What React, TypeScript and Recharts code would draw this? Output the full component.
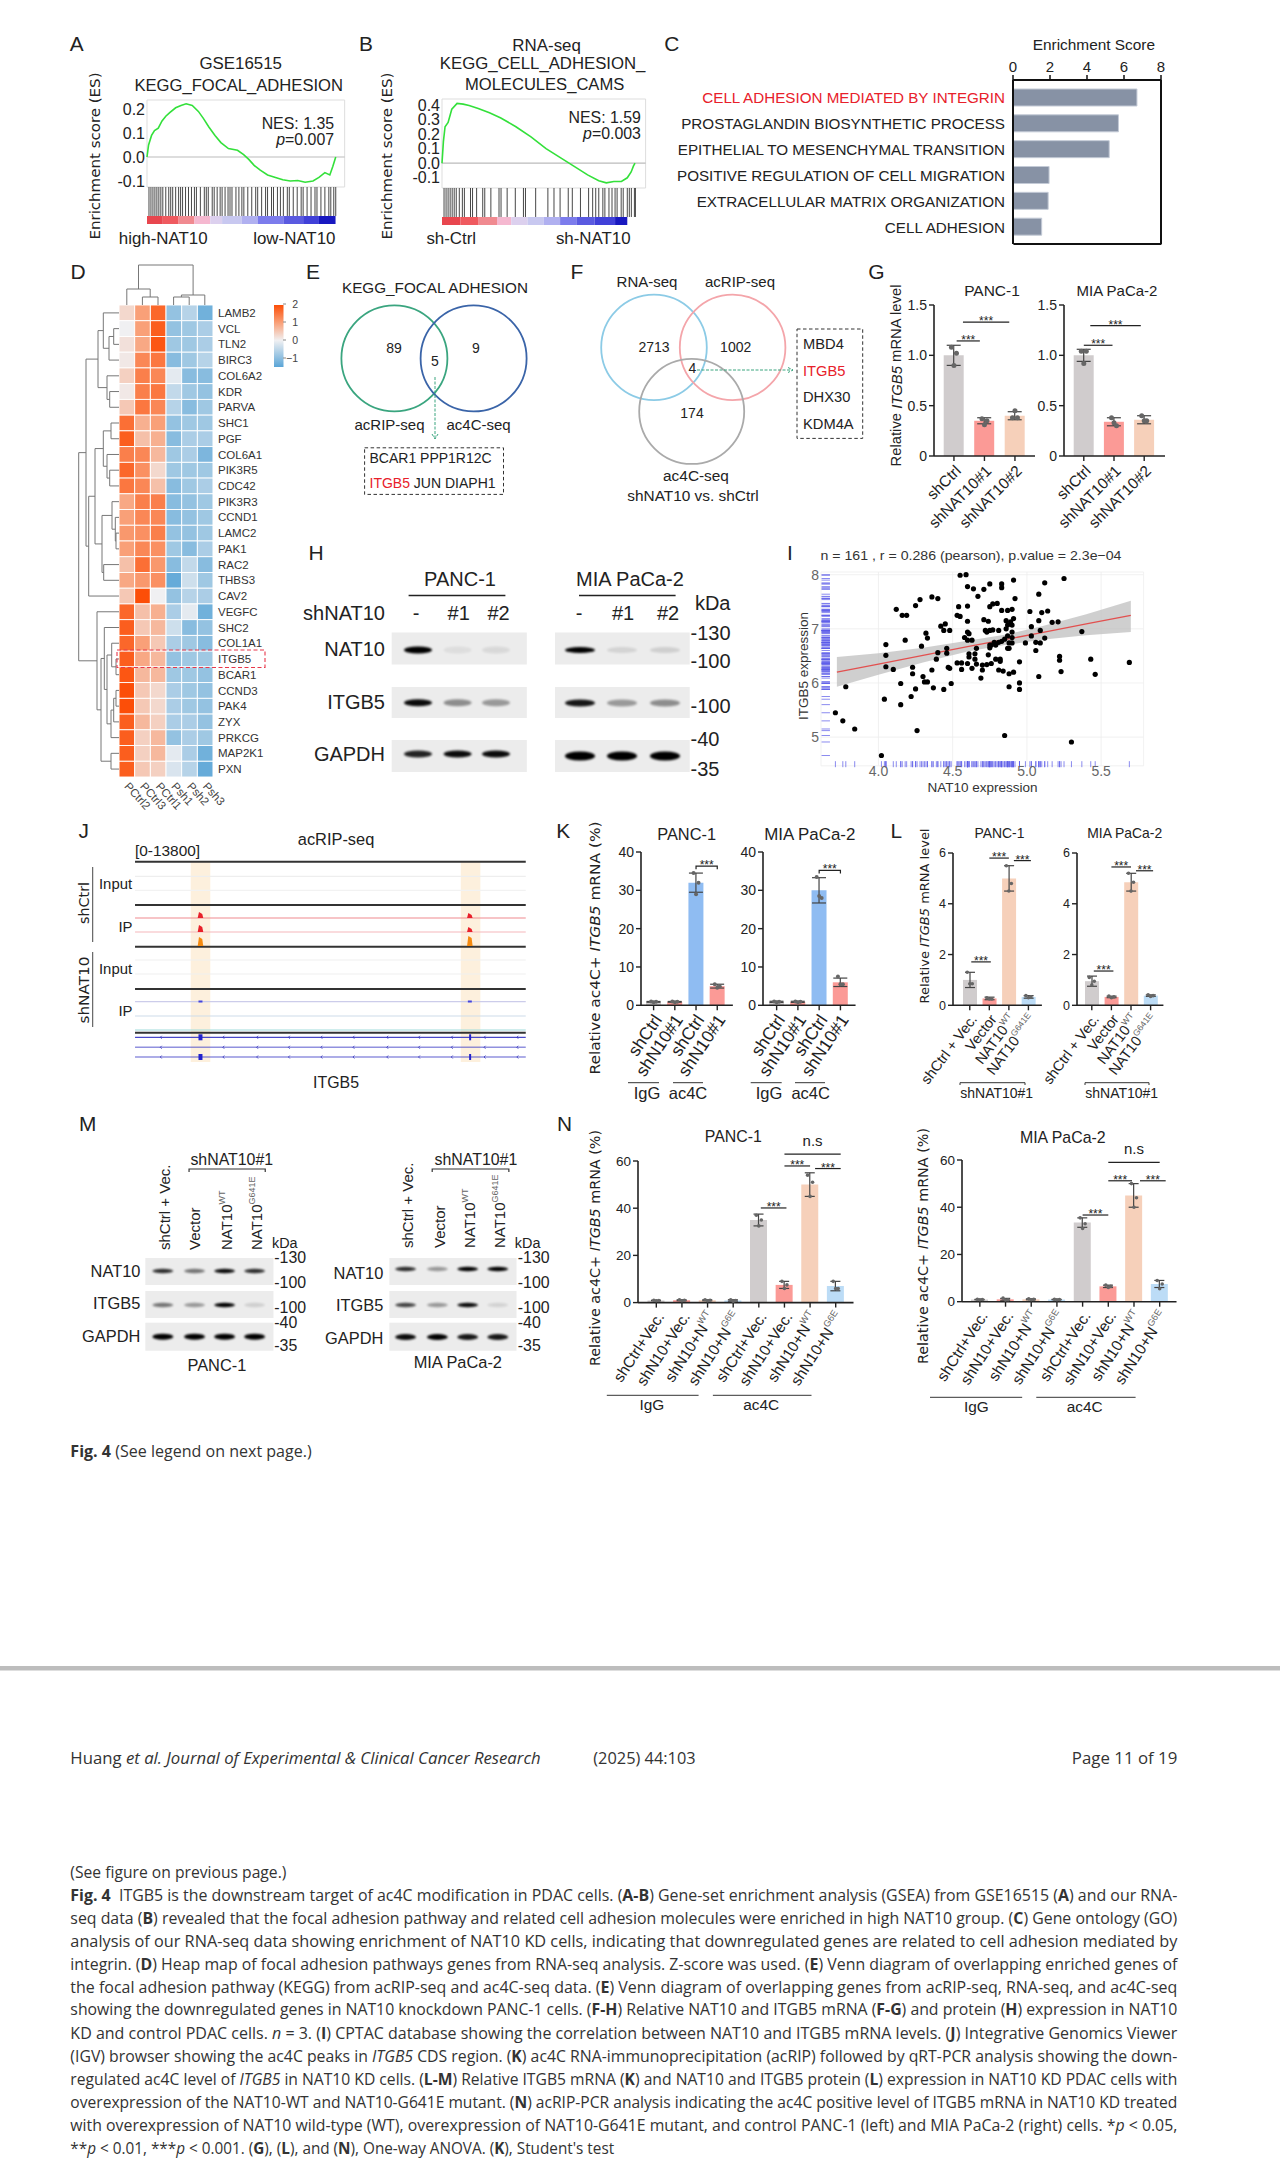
import React from "react";
import {
  Bar, BarChart, CartesianGrid, Cell, ComposedChart, Area, ErrorBar, Line, LineChart,
  ReferenceArea, ReferenceLine, Scatter, ScatterChart, XAxis, YAxis,
} from "recharts";

// A / B GSEA curves
const gseaARank = [0, 0.8, 2.3, 3.8, 5.7, 7.6, 9.5, 11.5, 14.5, 17.2, 19.8, 22.9, 26, 28.6, 31.3, 34.4, 37.4, 41.2, 45.8, 48.9, 51.5, 54.2, 57.3, 61, 65, 68.7, 72.5, 76.3, 80, 84, 87, 90, 92.5, 94, 95.5];
const gseaAEs = [0, 0.05, 0.09, 0.11, 0.12, 0.15, 0.17, 0.185, 0.205, 0.215, 0.222, 0.215, 0.19, 0.16, 0.125, 0.09, 0.06, 0.035, 0.028, 0.01, -0.01, -0.035, -0.055, -0.075, -0.085, -0.095, -0.1, -0.098, -0.105, -0.1, -0.085, -0.065, -0.075, -0.04, 0];
const gseaAHits = [1, 2, 3, 4, 5, 6, 7, 8, 9.5, 11, 12, 13, 14.5, 16, 17, 18, 19.5, 21, 22.5, 24, 25, 27, 29, 30, 31, 33, 34, 35.5, 37, 38, 39.5, 41, 42, 43, 45, 46.5, 48, 49, 51, 53, 55, 56, 58, 60, 61, 63, 64, 66, 67.5, 69, 71, 72, 74, 76, 78, 79, 81, 83, 85, 86, 88, 90, 92, 93, 94.5, 95.5];
const gseaBRank = [0, 0.7, 1.5, 3, 4.8, 7.4, 10.4, 13.3, 17.8, 23.3, 28.9, 36.3, 43.7, 51.1, 58.5, 65.9, 71.5, 77, 80.7, 84.4, 88.1, 91, 92.9, 94, 94.8];
const gseaBEs = [0, 0.15, 0.25, 0.28, 0.37, 0.41, 0.405, 0.395, 0.375, 0.345, 0.31, 0.25, 0.18, 0.1, 0.035, -0.03, -0.08, -0.12, -0.135, -0.125, -0.125, -0.1, -0.06, -0.02, 0];
const gseaBHits = [1, 2, 3, 4, 5, 6, 7, 8.5, 10, 11, 14, 15, 17, 20, 21, 24, 28, 29, 32, 36, 40, 41, 46, 52, 55, 58, 62, 64, 68, 72, 74, 75.5, 77, 79, 80, 82, 83.5, 85, 86, 88, 89, 91, 92, 93, 94.5, 95];
const stripColors = ["#e8464e", "#ef5a5f", "#f08a90", "#f5b8d0", "#dcd0ee", "#c8c8f0", "#b0b0f0", "#7c7cec", "#5a5ae0", "#4040d8", "#1818c0"];
const stripAWidths = [8, 8, 8, 8, 6, 10, 8, 13, 10, 8, 8.4];
const stripBWidths = [9, 9, 9, 7, 8, 8, 8, 8, 9, 10, 6];

// C enrichment
const goTerms = ["CELL ADHESION MEDIATED BY INTEGRIN", "PROSTAGLANDIN BIOSYNTHETIC PROCESS", "EPITHELIAL TO MESENCHYMAL TRANSITION", "POSITIVE REGULATION OF CELL MIGRATION", "EXTRACELLULAR MATRIX ORGANIZATION", "CELL ADHESION"];
const goScores = [6.7, 5.7, 5.2, 1.95, 1.9, 1.55];

// D heatmap
const heatGenes = ["LAMB2", "VCL", "TLN2", "BIRC3", "COL6A2", "KDR", "PARVA", "SHC1", "PGF", "COL6A1", "PIK3R5", "CDC42", "PIK3R3", "CCND1", "LAMC2", "PAK1", "RAC2", "THBS3", "CAV2", "VEGFC", "SHC2", "COL1A1", "ITGB5", "BCAR1", "CCND3", "PAK4", "ZYX", "PRKCG", "MAP2K1", "PXN"];
const heatSamples = ["PCtrl2", "PCtrl3", "PCtrl1", "Psh1", "Psh2", "Psh3"];
const heatValues = [
  [0.3, 1, 1.7, -0.8, -0.5, -1.1], [0, 1, 1.8, -0.8, -0.7, -0.6], [0.2, 0.9, 1.9, -0.7, -0.7, -0.6], [0.1, 1.3, 1.5, -0.9, -0.7, -0.5],
  [0.4, 1.4, 1.3, -0.1, -0.9, -0.9], [0.1, 1.4, 1.5, -0.4, -0.7, -0.8], [0.5, 1.5, 1.3, -0.5, -0.9, -0.7], [1.6, 0.8, 1, -0.8, -0.7, -0.7],
  [1.8, 0.6, 0.8, -0.9, -0.6, -0.6], [1.4, 1.3, 0.7, -0.7, -0.6, -1], [1.7, 1.2, 0.3, -0.7, -0.7, -0.7], [1.5, 1.3, 0.6, -0.9, -0.7, -0.6],
  [0.9, 1.4, 1.4, -0.9, -0.8, -0.7], [1, 1.3, 1.3, -0.9, -0.8, -0.7], [1.1, 1.2, 1.4, -0.8, -0.8, -0.7], [1, 1.3, 1.2, -0.7, -0.9, -0.6],
  [0.6, 1.6, 1.1, -0.9, -0.4, -0.9], [0.9, 1.1, 1.2, -1.2, -0.3, -0.7], [0.5, 2, 0, -0.8, -0.5, -0.6], [1.7, 0.6, 0.8, -0.6, -0.1, -1.1],
  [1.8, 0.5, 0.7, -0.3, -0.9, -0.8], [1.7, 1, 0.5, -0.6, -0.7, -0.9], [1.8, 0.9, 0.7, -0.8, -0.7, -0.7], [1.9, 0.7, 0.7, -0.7, -0.7, -0.8],
  [2, 0.5, 0.3, -0.6, -0.7, -0.8], [2, 0.5, 0.3, -0.6, -0.7, -0.8], [1.8, 0.7, 0.4, -0.6, -0.6, -0.8], [1.8, 0.4, 0.7, -0.8, -0.6, -0.7],
  [1.8, 0.4, 0.7, -0.1, -0.6, -1.1], [1.8, 0.5, 0.4, -0.2, -0.5, -1.2],
];
// [height, left, right], leaves are row / column numbers
const rowTree: any = [40.3,
  [33, [21, [15.7, 0, [10, [5.3, 1, 2], 3]], [12, 4, [9.3, 5, 6]]],
    [30.3, [24, [15.7, [8, 7, 8], [12, 9, [9.3, 10, 11]]], [17, [7, 12, [3.7, 13, [3, 14, 15]]], [15.3, 16, 17]]], 18]],
  [22, 19, [18, [14.7, 20, [12, [7.3, 21, [3, 22, 23]], [8, [5.3, [3, 24, 25], 26], 27]]], [8, 28, 29]]]];
const colTree: any = [40, [16, 0, [8, 1, 2]], [10, [8, 3, 4], 5]];

// G
const gLabels = ["shCtrl", "shNAT10#1", "shNAT10#2"];
const gPancMeans = [1, 0.35, 0.4];
const gPancErrs = [0.1, 0.03, 0.04];
const gPancReps = [[1.08, 1.02, 0.9], [0.37, 0.35, 0.31], [0.38, 0.38, 0.45]];
const gMiaMeans = [1, 0.34, 0.36];
const gMiaErrs = [0.06, 0.04, 0.04];
const gMiaReps = [[1.04, 1.04, 0.92], [0.38, 0.3, 0.33], [0.4, 0.35, 0.35]];

// I scatter: NAT10, ITGB5
const scatterPairs = [[3.71, 5.45], [3.76, 5.3], [3.84, 5.15], [3.78, 5.93], [4.02, 4.66], [4.04, 5.7], [4.05, 6.71], [4.05, 6.51], [4.05, 6.3], [4.1, 6.25], [4.12, 7.36], [4.16, 7.25], [4.19, 7.25], [4.18, 6.79], [4.15, 5.99], [4.15, 5.6], [4.23, 6.29], [4.23, 6.17], [4.22, 5.75], [4.25, 5.89], [4.26, 5.12], [4.25, 7.43], [4.28, 7.54], [4.29, 6.68], [4.3, 6.12], [4.31, 6.02], [4.33, 6.02], [4.32, 6.92], [4.33, 6.83], [4.36, 7.59], [4.4, 7.56], [4.36, 6.24], [4.37, 5.91], [4.39, 6.44], [4.4, 6.56], [4.42, 7.05], [4.45, 7.09], [4.44, 6.97], [4.48, 6.97], [4.46, 6.64], [4.46, 6.55], [4.44, 5.88], [4.47, 6.29], [4.48, 6.27], [4.49, 5.99], [4.53, 7.25], [4.55, 7.99], [4.59, 8], [4.6, 7.78], [4.64, 7.74], [4.71, 7.73], [4.75, 7.83], [4.83, 7.83], [4.83, 7.76], [4.91, 7.9], [4.67, 7.6], [4.54, 7.41], [4.6, 7.42], [4.75, 7.41], [4.77, 7.46], [4.8, 7.47], [4.83, 7.34], [4.87, 7.34], [4.92, 7.56], [4.9, 7.36], [4.55, 7.23], [4.6, 7.14], [4.71, 7.17], [4.74, 7.14], [4.86, 7.15], [4.91, 7.19], [4.89, 7.13], [5.02, 7.32], [5.1, 7.3], [5.14, 7.33], [5.12, 7.85], [5.08, 7.64], [5.25, 7.93], [5.08, 7.15], [5.03, 7.04], [5.17, 7.12], [5.21, 7.13], [5.37, 6.95], [5.09, 6.97], [5.12, 6.83], [5.03, 6.87], [4.99, 6.74], [5.06, 6.75], [5.09, 6.74], [5.06, 6.6], [5.22, 6.49], [5.22, 6.42], [5.23, 6.21], [5.08, 6.12], [5.43, 6.44], [5.46, 6.16], [5.69, 6.38], [5.3, 4.91], [4.85, 5.03], [4.88, 5.93], [4.95, 6], [4.95, 5.88], [4.95, 6.39], [4.69, 6.09], [4.88, 6.17], [4.91, 6.2], [4.81, 6.24], [4.84, 6.22], [4.79, 6.44], [4.82, 6.44], [4.82, 6.4], [4.76, 6.36], [4.73, 6.34], [4.7, 6.33], [4.66, 6.35], [4.63, 6.27], [4.56, 6.25], [4.7, 6.24], [4.53, 6.37], [4.56, 6.37], [4.6, 6.36], [4.61, 6.48], [4.61, 6.54], [4.65, 6.54], [4.65, 6.44], [4.74, 6.52], [4.75, 6.65], [4.66, 6.64], [4.58, 6.84], [4.6, 6.79], [4.63, 6.79], [4.6, 6.94], [4.61, 6.91], [4.72, 6.97], [4.75, 6.97], [4.77, 6.98], [4.81, 6.97], [4.73, 6.94], [4.86, 7], [4.9, 7.07], [4.87, 7.07], [4.9, 6.94], [4.9, 6.84], [4.88, 6.74], [4.87, 6.87], [4.85, 6.81], [4.83, 6.77], [4.81, 6.75], [4.78, 6.75], [4.76, 6.7], [4.75, 6.7], [4.79, 6.7], [4.88, 6.64], [4.87, 6.64], [4.9, 6.74]];
const fitX = [3.72, 4, 4.3, 4.6, 4.85, 5.1, 5.4, 5.7];
const fitY = [6.2, 6.35, 6.51, 6.67, 6.8, 6.93, 7.09, 7.25];
const fitLow = [5.93, 6.15, 6.38, 6.58, 6.7, 6.8, 6.88, 6.94];
const fitHigh = [6.48, 6.55, 6.65, 6.78, 6.89, 7.05, 7.27, 7.52];

// K
const kLabels = ["shCtrl", "shN10#1", "shCtrl", "shN10#1"];
const kPancMeans = [0.9, 0.9, 32, 5];
const kPancErrs = [0.1, 0.1, 2.5, 0.5];
const kPancReps = [[1, 0.9, 0.8], [1, 0.9, 0.8], [34.5, 32, 29], [5.5, 5, 4.6]];
const kMiaMeans = [0.9, 0.9, 30, 6];
const kMiaErrs = [0.15, 0.15, 3.3, 1.1];
const kMiaReps = [[1, 0.9, 0.8], [1, 0.9, 0.8], [33.5, 28, 28.5], [7.5, 5.5, 5.5]];

// L
const lLabels = ["shCtrl + Vec.", "Vector", "NAT10^WT", "NAT10^G641E"];
const lPancMeans = [1, 0.27, 5, 0.33];
const lPancErrs = [0.3, 0.05, 0.5, 0.05];
const lPancReps = [[1.3, 0.85, 0.85], [0.3, 0.25, 0.25], [5.5, 4.8, 4.5], [0.38, 0.33, 0.3]];
const lMiaMeans = [0.95, 0.33, 4.85, 0.38];
const lMiaErrs = [0.2, 0.03, 0.35, 0.03];
const lMiaReps = [[1.1, 0.95, 0.8], [0.36, 0.33, 0.3], [5.2, 4.85, 4.5], [0.41, 0.38, 0.35]];

// N
const nLabels = ["shCtrl+Vec.", "shN10+Vec.", "shN10+N^WT", "shN10+N^G6E", "shCtrl+Vec.", "shN10+Vec.", "shN10+N^WT", "shN10+N^G6E"];
const nPancMeans = [0.9, 1, 1, 0.9, 35, 7.5, 50, 7];
const nPancErrs = [0.1, 0.2, 0.2, 0.3, 2.5, 1.5, 5, 2];
const nPancReps = [[1, 0.9, 0.8], [1.2, 1, 0.8], [1.2, 1, 0.8], [1.2, 0.9, 0.6], [37, 35, 32.5], [9, 7.5, 6], [54, 51, 45], [9, 6, 6]];
const nMiaMeans = [0.9, 1, 1, 0.9, 33.5, 6.5, 45, 7.5];
const nMiaErrs = [0.1, 0.4, 0.2, 0.1, 2, 0.5, 5, 1.5];
const nMiaReps = [[1, 0.9, 0.8], [1.5, 0.8, 0.7], [1.2, 1, 0.8], [1, 0.9, 0.8], [35.5, 33, 31], [7, 6.5, 6], [50, 44, 40], [9, 7.5, 5.5]];

// blot band strengths, one row per antibody
const hPancLevels = [[1, 0.06, 0.08], [0.95, 0.4, 0.35], [0.85, 0.95, 0.95]];
const hMiaLevels = [[1, 0.1, 0.12], [0.9, 0.35, 0.4], [1, 1, 1]];
const mPancLevels = [[0.8, 0.5, 0.95, 0.8], [0.5, 0.35, 1, 0.12], [1, 1, 1, 1]];
const mMiaLevels = [[0.8, 0.35, 1, 1], [0.7, 0.35, 0.95, 0.1], [0.95, 1, 0.9, 0.9]];

const captionLines = [
  "(See figure on previous page.)",
  "~Fig. 4~  ITGB5 is the downstream target of ac4C modification in PDAC cells. (~A-B~) Gene-set enrichment analysis (GSEA) from GSE16515 (~A~) and our RNA-",
  "seq data (~B~) revealed that the focal adhesion pathway and related cell adhesion molecules were enriched in high NAT10 group. (~C~) Gene ontology (GO)",
  "analysis of our RNA-seq data showing enrichment of NAT10 KD cells, indicating that downregulated genes are related to cell adhesion mediated by",
  "integrin. (~D~) Heap map of focal adhesion pathways genes from RNA-seq analysis. Z-score was used. (~E~) Venn diagram of overlapping enriched genes of",
  "the focal adhesion pathway (KEGG) from acRIP-seq and ac4C-seq data. (~E~) Venn diagram of overlapping genes from acRIP-seq, RNA-seq, and ac4C-seq",
  "showing the downregulated genes in NAT10 knockdown PANC-1 cells. (~F-H~) Relative NAT10 and ITGB5 mRNA (~F-G~) and protein (~H~) expression in NAT10",
  "KD and control PDAC cells. _n_ = 3. (~I~) CPTAC database showing the correlation between NAT10 and ITGB5 mRNA levels. (~J~) Integrative Genomics Viewer",
  "(IGV) browser showing the ac4C peaks in _ITGB5_ CDS region. (~K~) ac4C RNA-immunoprecipitation (acRIP) followed by qRT-PCR analysis showing the down-",
  "regulated ac4C level of _ITGB5_ in NAT10 KD cells. (~L-M~) Relative ITGB5 mRNA (~K~) and NAT10 and ITGB5 protein (~L~) expression in NAT10 KD PDAC cells with",
  "overexpression of the NAT10-WT and NAT10-G641E mutant. (~N~) acRIP-PCR analysis indicating the ac4C positive level of ITGB5 mRNA in NAT10 KD treated",
  "with overexpression of NAT10 wild-type (WT), overexpression of NAT10-G641E mutant, and control PANC-1 (left) and MIA PaCa-2 (right) cells. *_p_ < 0.05,",
  "**_p_ < 0.01, ***_p_ < 0.001. (~G~), (~L~), and (~N~), One-way ANOVA. (~K~), Student's test",
];

const GRAY = "#d0cccd";
const SALMON = "#fb9a96";
const PEACH = "#f6d0ba";
const SKY = "#bcdcf6";
const BLUE = "#8fbcf2";
const SERIF = "Open Sans";
const AX = 60; // room given to each axis, the wrapper is pulled back by this much

// panels A-C and J-N were measured on a slightly wider scale, pull them back
const KX = 0.99323;
const fx = (x: number) => 50 + (x - 50) * KX;
const sq = ([a, b, c, d]: number[]) => [fx(a), b, fx(c), d];
const SQUEEZE = `translate(50 0) scale(${KX} 1) translate(-50 0)`;

const at = (x: number, y: number): React.CSSProperties => ({ position: "absolute", left: x, top: y });
const NO_MARGIN = { top: 0, right: 0, bottom: 0, left: 0 };
const oneDecimal = (v: number) => (v === 0 ? "0" : v.toFixed(1));

function T({ x, y, fs = 14, rot, anchor = "middle", fill = "#222", len, font, children, weight }: any) {
  return (
    <text
      x={x} y={y} fontSize={fs} fill={fill} textAnchor={anchor} dominantBaseline="central" fontWeight={weight}
      fontFamily={font} transform={rot ? `rotate(${rot} ${x} ${y})` : undefined}
      textLength={len} lengthAdjust={len ? "spacingAndGlyphs" : undefined}
    >
      {children}
    </text>
  );
}

// "NAT10^WT" gets its tail as a superscript
function withSup(label: string, fs: number) {
  const [main, sup] = label.split("^");
  if (!sup) return main;
  return (
    <>
      {main}
      <tspan fontSize={fs * 0.6} dy={-fs * 0.32} fill="#666">{sup}</tspan>
    </>
  );
}

function SlantTick({ x, y, payload, labels, fs, angle = -45, gap = 5 }: any) {
  return (
    <g transform={`translate(${x + 4},${y + gap})`}>
      <text transform={`rotate(${angle})`} textAnchor="end" dominantBaseline="central" fontSize={fs} fill="#222">
        {withSup(labels[payload.value], fs)}
      </text>
    </g>
  );
}

const bracket = (text: string, dx1 = 0, dx2 = 0, drop = 0, fs = 12) => (p: any) => {
  const a = p.x1 + dx1;
  const b = p.x2 + dx2;
  const isStars = text === "***";
  return (
    <g>
      <path d={`M${a} ${p.y1 + drop}V${p.y1}H${b}V${p.y1 + drop}`} fill="none" stroke="#222" strokeWidth={1.2} />
      <text x={(a + b) / 2} y={p.y1 + (isStars ? 3 : -8)} textAnchor="middle" fontSize={fs} fill="#222">{text}</text>
    </g>
  );
};

function dotAt(off: number, r: number) {
  return (p: any) => <circle key={p.index} cx={p.cx + off} cy={p.cy} r={r} fill="#666" />;
}

function BarPanel({ box, labels, means, errs, reps, colors, yMax, ticks, yFormat, barW, padL, padR, fs, tickFs, angle, gap, sigs, dotR = 2.5, capW = 7 }: any) {
  const [x0, y0, x1, y1] = box;
  const rows = labels.map((_: string, i: number) => ({ id: i, mean: means[i], err: errs[i], r1: reps[i][0], r2: reps[i][1], r3: reps[i][2] }));
  return (
    <div style={at(x0 - AX, y0)}>
      <ComposedChart width={x1 - x0 + AX} height={y1 - y0 + AX} data={rows} margin={NO_MARGIN}>
        <XAxis
          dataKey="id" type="category" height={AX} interval={0} padding={{ left: padL, right: padR }}
          stroke="#222" strokeWidth={1.6} tickSize={5} tickLine={{ stroke: "#222", strokeWidth: 1.4 }}
          tick={<SlantTick labels={labels} fs={tickFs} angle={angle} gap={gap} />}
        />
        <YAxis
          type="number" width={AX} domain={[0, yMax]} ticks={ticks} interval={0} stroke="#222" strokeWidth={1.6} tickSize={5}
          tickLine={{ stroke: "#222", strokeWidth: 1.4 }} tick={{ fontSize: fs, fill: "#222" }} tickFormatter={yFormat}
        />
        <Bar dataKey="mean" barSize={barW} isAnimationActive={false}>
          {rows.map((_: any, i: number) => <Cell key={i} fill={colors[i]} />)}
          <ErrorBar dataKey="err" width={capW} stroke="#444" strokeWidth={1.2} isAnimationActive={false} />
        </Bar>
        <Line dataKey="r1" stroke="none" dot={dotAt(-2.5, dotR)} isAnimationActive={false} />
        <Line dataKey="r2" stroke="none" dot={dotAt(2.5, dotR)} isAnimationActive={false} />
        <Line dataKey="r3" stroke="none" dot={dotAt(0, dotR)} isAnimationActive={false} />
        {sigs.map((s: any, i: number) => (
          <ReferenceLine
            key={i} ifOverflow="visible"
            segment={[{ x: s.from, y: s.y }, { x: s.to, y: s.y }]}
            shape={bracket(s.text ?? "***", s.l ?? 0, s.r ?? 0, s.drop ?? 0, s.fs ?? 12)}
          />
        ))}
      </ComposedChart>
    </div>
  );
}

function GseaPanel({ box, ranks, es, domain, ticks, hits, widths }: any) {
  const [x0, y0, x1, y1] = box;
  const rows = ranks.map((rank: number, i: number) => ({ rank, es: es[i] }));
  const strip: any = { row: "rank" };
  widths.forEach((w: number, i: number) => { strip[`s${i}`] = w; });
  const w = x1 - x0;
  return (
    <>
      <div style={at(x0 - AX, y0)}>
        <LineChart width={w + AX} height={y1 - y0} data={rows} margin={NO_MARGIN}>
          <XAxis dataKey="rank" type="number" domain={[0, 100]} hide />
          <YAxis
            type="number" width={AX} domain={domain} ticks={ticks} interval={0} axisLine={false} tickLine={false} tickSize={0}
            tickMargin={2} tick={{ fontSize: 16, fill: "#222" }} tickFormatter={(v: number) => v.toFixed(1)}
          />
          <ReferenceArea x1={0} x2={100} y1={domain[0]} y2={domain[1]} fill="none" stroke="#ddd" ifOverflow="visible" />
          <ReferenceLine y={0} stroke="#bbb" strokeWidth={1.2} />
          <Line dataKey="es" stroke="#33e03a" strokeWidth={1.6} dot={false} isAnimationActive={false} />
        </LineChart>
      </div>
      <div style={at(x0, y1)}>
        <LineChart width={w} height={29} data={[{ x: 0, y: 0 }, { x: 100, y: 1 }]} margin={NO_MARGIN}>
          <XAxis dataKey="x" type="number" domain={[0, 100]} hide />
          <YAxis hide />
          <Line dataKey="y" stroke="none" dot={false} isAnimationActive={false} />
          {hits.map((h: number) => <ReferenceLine key={h} x={h} stroke="#333" strokeWidth={0.9} />)}
        </LineChart>
      </div>
      <div style={at(x0, y1 + 29)}>
        <BarChart layout="vertical" width={w} height={8} data={[strip]} barCategoryGap={0} margin={NO_MARGIN}>
          <XAxis type="number" domain={[0, 100]} hide />
          <YAxis type="category" dataKey="row" hide />
          {widths.map((_: number, i: number) => (
            <Bar key={i} dataKey={`s${i}`} stackId="rank" fill={stripColors[i]} isAnimationActive={false} />
          ))}
        </BarChart>
      </div>
    </>
  );
}

function GoTick({ x, y, payload }: any) {
  return (
    <text x={x} y={y} textAnchor="end" dominantBaseline="central" fontSize={15.2} fill={payload.value === goTerms[0] ? "#e8202a" : "#222"}>
      {payload.value}
    </text>
  );
}

function EnrichmentPanel() {
  const rows = goTerms.map((term, i) => ({ term, score: goScores[i] }));
  return (
    <div style={at(fx(1020) - AX, 80 - AX)}>
      <BarChart layout="vertical" width={148 + AX} height={164 + AX} data={rows} margin={NO_MARGIN}>
        <XAxis
          type="number" orientation="top" height={AX} domain={[0, 8]} ticks={[0, 2, 4, 6, 8]} interval={0} stroke="#111" strokeWidth={2}
          tickSize={5} tickMargin={0} tick={{ fontSize: 15, fill: "#222", dy: -3 }} tickLine={{ stroke: "#111", strokeWidth: 1.5 }}
        />
        <YAxis type="category" dataKey="term" width={AX} interval={0} padding={{ top: 5, bottom: 4 }} axisLine={{ stroke: "#111", strokeWidth: 2 }} tickLine={false} tickSize={0} tickMargin={8} tick={<GoTick />} />
        <ReferenceLine x={8} stroke="#111" strokeWidth={2} />
        <Bar dataKey="score" barSize={17} fill="#8792a5" stroke="#c3cad6" isAnimationActive={false} />
      </BarChart>
    </div>
  );
}

const mix = (a: number[], b: number[], t: number) => `rgb(${a.map((v, i) => Math.round(v + (b[i] - v) * t)).join(",")})`;
function heatColor(z: number) {
  if (z >= 1) return mix([249, 160, 120], [252, 78, 8], Math.min(z - 1, 1));
  if (z >= 0) return mix([240, 240, 242], [249, 160, 120], z);
  return mix([240, 240, 242], [90, 165, 215], Math.min(-z / 1.3, 1));
}

function HeatCell(p: any) {
  return <rect x={p.cx - 7.8} y={p.cy - 7.87} width={15.6} height={15.73} fill={heatColor(p.payload.z)} stroke="#fff" strokeWidth={0.9} />;
}

function HeatTick({ x, y, payload }: any) {
  return (
    <text transform={`translate(${x},${y + 5}) rotate(48)`} fontSize={11.5} fill="#444" textAnchor="start" dominantBaseline="central">
      {heatSamples[payload.value]}
    </text>
  );
}

function Heatmap() {
  const cells = heatValues.flatMap((row, r) => row.map((z, c) => ({ c, r, z })));
  return (
    <div style={at(119, 305)}>
      <ScatterChart width={94 + AX} height={472 + AX} margin={NO_MARGIN}>
        <XAxis dataKey="c" type="number" height={AX} domain={[-0.5, 5.5]} ticks={[0, 1, 2, 3, 4, 5]} interval={0} axisLine={false} tickLine={false} tickSize={0} tick={<HeatTick />} />
        <YAxis
          dataKey="r" type="number" width={AX} orientation="right" reversed domain={[-0.5, 29.5]} ticks={heatGenes.map((_, i) => i)} interval={0}
          axisLine={false} tickLine={false} tickSize={0} tickMargin={5} tick={{ fontSize: 11.5, fill: "#333" }} tickFormatter={(i: number) => heatGenes[i]}
        />
        <Scatter data={cells} shape={HeatCell} isAnimationActive={false} />
      </ScatterChart>
    </div>
  );
}

function ScatterPanel() {
  const points = scatterPairs.map(([x, y]) => ({ x, y }));
  const fit = fitX.map((x, i) => ({ x, fit: fitY[i], band: [fitLow[i], fitHigh[i]] }));
  const rugX = points.map((p) => ({ x: p.x, y: 4.5 }));
  const rugY = points.map((p) => ({ x: 3.645, y: p.y }));
  return (
    <div style={at(820.6 - AX, 571.8)}>
      <ComposedChart width={322.6 + AX} height={193.8 + AX} data={fit} margin={NO_MARGIN}>
        <CartesianGrid stroke="#eeeeee" strokeWidth={0.8} />
        <XAxis dataKey="x" type="number" height={AX} domain={[3.613, 5.786]} ticks={[4, 4.5, 5, 5.5]} interval={0} axisLine={false} tickLine={false} tickSize={0} tickMargin={0} tick={{ fontSize: 14, fill: "#666" }} tickFormatter={(v: number) => v.toFixed(1)} />
        <YAxis dataKey="y" type="number" width={AX} domain={[4.47, 8.05]} ticks={[5, 6, 7, 8]} interval={0} axisLine={false} tickLine={false} tickSize={0} tickMargin={2} tick={{ fontSize: 14, fill: "#666" }} />
        <Scatter data={points} fill="#000" shape={(p: any) => <circle cx={p.cx} cy={p.cy} r={2.6} fill="#000" />} isAnimationActive={false} />
        <Area dataKey="band" stroke="none" fill="#bdbdbd" fillOpacity={0.72} isAnimationActive={false} />
        <Line dataKey="fit" stroke="#e2504f" strokeWidth={1.3} dot={false} isAnimationActive={false} />
        <Scatter data={rugX} shape={(p: any) => <rect x={p.cx - 0.5} y={p.cy - 3} width={1} height={6} fill="#5a5ae8" fillOpacity={0.7} />} isAnimationActive={false} />
        <Scatter data={rugY} shape={(p: any) => <rect x={p.cx - 4.2} y={p.cy - 0.5} width={8.4} height={1} fill="#5a5ae8" fillOpacity={0.7} />} isAnimationActive={false} />
      </ComposedChart>
    </div>
  );
}

function treeLines(node: any, place: (leaf: number) => number, out: string[], flip: boolean): [number, number] {
  if (typeof node === "number") return [place(node), 0];
  const [h, a, b] = node;
  const [pa, ha] = treeLines(a, place, out, flip);
  const [pb, hb] = treeLines(b, place, out, flip);
  out.push(flip ? `M${-ha} ${pa}H${-h}V${pb}H${-hb}` : `M${pa} ${-ha}V${-h}H${pb}V${-hb}`);
  return [(pa + pb) / 2, h];
}

function Dendro({ tree, x, y, step, first, flip }: any) {
  const out: string[] = [];
  treeLines(tree, (leaf) => first + leaf * step, out, flip);
  return <path transform={`translate(${x} ${y})`} d={out.join("")} fill="none" stroke="#777" strokeWidth={1} />;
}

function Blot({ x0, x1, lanes, rows, levels, bw }: any) {
  return (
    <g>
      {rows.map((r: any, i: number) => (
        <g key={i}>
          <rect x={x0} y={r.top} width={x1 - x0} height={r.h} fill="#ececec" />
          {lanes.map((lane: number, j: number) => (
            <ellipse key={j} cx={lane} cy={r.band} rx={bw / 2} ry={r.bh / 2} fill="#000" opacity={levels[i][j]} filter="url(#bandBlur)" />
          ))}
        </g>
      ))}
    </g>
  );
}

function Caption() {
  const parse = (line: string) => line.split(/(~[^~]+~|_[^_]+_)/).filter(Boolean).map((part, i) => {
    if (part[0] === "~") return <tspan key={i} fontWeight="bold">{part.slice(1, -1)}</tspan>;
    if (part[0] === "_") return <tspan key={i} fontStyle="italic">{part.slice(1, -1)}</tspan>;
    return <tspan key={i}>{part}</tspan>;
  });
  const ys = [1872, 1895, 1918.3, 1941.3, 1964, 1986.7, 2009.3, 2032.7, 2056, 2079, 2101.7, 2125, 2147.7];
  return (
    <g fontFamily={SERIF} fontSize={16} fill="#333">
      {captionLines.map((line, i) => (
        <text key={i} x={70.5} y={ys[i]} dominantBaseline="central" xmlSpace="preserve" textLength={i === 0 ? 217.5 : i === 12 ? 547.5 : 1114.5} lengthAdjust="spacingAndGlyphs">
          {parse(line)}
        </text>
      ))}
    </g>
  );
}

function Overlay() {
  const gTicks = [344, 370.7, 397, 424];
  const chevrons = [161, 224, 258, 290, 322.7, 355, 389, 421, 454, 487, 520];
  return (
    <svg width={1280} height={2177} style={{ position: "absolute", left: 0, top: 0 }} fontFamily="Liberation Sans">
      <defs>
        <filter id="bandBlur" x="-30%" y="-80%" width="160%" height="260%"><feGaussianBlur stdDeviation="1.1" /></filter>
        <linearGradient id="heatLegend" x1="0" y1="0" x2="0" y2="1">
          <stop offset="0" stopColor="#fc4e08" /><stop offset="0.286" stopColor="#f9a078" />
          <stop offset="0.571" stopColor="#f0f0f2" /><stop offset="1" stopColor="#5aa5d7" />
        </linearGradient>
      </defs>

      {/* panel letters */}
      {[["D", 78, 271], ["E", 313, 271], ["F", 577, 271], ["G", 876.5, 271], ["H", 316, 552], ["I", 790, 552]].map(([l, x, y]) => (
        <T key={l as string} x={x} y={y} fs={21}>{l}</T>
      ))}

      <g transform={SQUEEZE}>
        {[["A", 77, 43], ["B", 368, 43], ["C", 676, 43], ["J", 84, 830], ["K", 566.7, 830], ["L", 902, 830], ["M", 88, 1123], ["N", 568, 1123]].map(([l, x, y]) => (
          <T key={l as string} x={x} y={y} fs={21}>{l}</T>
        ))}

        {/* A */}
        <T x={242} y={63} fs={17}>GSE16515</T>
        <T x={240} y={85} fs={16.5} len={210}>KEGG_FOCAL_ADHESION</T>
        <T x={95} y={156} rot={-90} fs={15} len={167} font="DejaVu Sans">Enrichment score (ES)</T>
        <T x={336} y={123} fs={16} anchor="end">NES: 1.35</T>
        <T x={336} y={139} fs={16} anchor="end"><tspan fontStyle="italic">p</tspan>=0.007</T>
        <T x={164} y={238} fs={17}>high-NAT10</T>
        <T x={296} y={238} fs={17}>low-NAT10</T>

        {/* B */}
        <T x={550} y={45} fs={17}>RNA-seq</T>
        <T x={546} y={63} fs={16.5} len={207}>KEGG_CELL_ADHESION_</T>
        <T x={548} y={84} fs={16.7}>MOLECULES_CAMS</T>
        <T x={389} y={156} rot={-90} fs={15} len={167} font="DejaVu Sans">Enrichment score (ES)</T>
        <T x={645} y={117} fs={16} anchor="end">NES: 1.59</T>
        <T x={645} y={133} fs={16} anchor="end"><tspan fontStyle="italic">p</tspan>=0.003</T>
        <T x={454} y={238} fs={17}>sh-Ctrl</T>
        <T x={597} y={238} fs={17}>sh-NAT10</T>

        {/* C */}
        <T x={1101} y={44} fs={15.5}>Enrichment Score</T>
        <line x1={1020} x2={1169} y1={244} y2={244} stroke="#111" strokeWidth={2} />
      </g>

      {/* D */}
      <Dendro tree={rowTree} x={119} y={0} step={15.73} first={312.9} flip />
      <Dendro tree={colTree} x={0} y={305} step={15.6} first={126.8} />
      <rect x={274} y={305} width={9.5} height={62} fill="url(#heatLegend)" />
      {[["2", 304], ["1", 322], ["0", 340], ["−1", 358]].map(([l, y]) => (
        <g key={l}>
          <line x1={283} x2={286} y1={y} y2={y} stroke="#888" />
          <T x={298} y={y} fs={10.5} anchor="end" fill="#444">{l}</T>
        </g>
      ))}
      <rect x={117} y={650} width={148} height={17.5} fill="none" stroke="#e8374a" strokeWidth={1.1} strokeDasharray="4 2.5" />

      {/* E */}
      <T x={435} y={287.5} fs={15} len={186}>KEGG_FOCAL ADHESION</T>
      <circle cx={394.4} cy={358.4} r={53} fill="none" stroke="#3aa57f" strokeWidth={1.8} />
      <circle cx={473.6} cy={358.4} r={53} fill="none" stroke="#3a64a8" strokeWidth={1.8} />
      <T x={394} y={347.5} fs={14}>89</T>
      <T x={476} y={347.5} fs={14}>9</T>
      <T x={435} y={360.5} fs={14}>5</T>
      <path d="M435 377V439M432 434L435 439L438 434" fill="none" stroke="#3aa57f" strokeWidth={1} strokeDasharray="3 1.5" />
      <T x={389.5} y={424} fs={15}>acRIP-seq</T>
      <T x={478.6} y={424} fs={15}>ac4C-seq</T>
      <rect x={364.6} y={447.8} width={138.9} height={46.6} fill="none" stroke="#333" strokeWidth={1} strokeDasharray="3.5 2.5" />
      <T x={369.5} y={458} fs={14} anchor="start">BCAR1 PPP1R12C</T>
      <T x={369.5} y={483} fs={14} anchor="start"><tspan fill="#e8202a">ITGB5</tspan> JUN DIAPH1</T>

      {/* F */}
      <T x={647} y={281.6} fs={15}>RNA-seq</T>
      <T x={740} y={281.6} fs={15}>acRIP-seq</T>
      <circle cx={654} cy={347.4} r={52.8} fill="none" stroke="#8ccbe6" strokeWidth={1.8} />
      <circle cx={732.6} cy={347.4} r={52.8} fill="none" stroke="#f4a5aa" strokeWidth={1.8} />
      <circle cx={691.7} cy={411.4} r={52.5} fill="none" stroke="#aaaaaa" strokeWidth={1.8} />
      <T x={654} y={347} fs={14}>2713</T>
      <T x={735.7} y={347} fs={14}>1002</T>
      <T x={692.4} y={368} fs={14}>4</T>
      <T x={692} y={413} fs={14}>174</T>
      <T x={696} y={475.5} fs={15.4}>ac4C-seq</T>
      <T x={693} y={495.5} fs={15.4}>shNAT10 vs. shCtrl</T>
      <path d="M697 370H793M788 367.5L793 370L788 372.5" fill="none" stroke="#3aa57f" strokeWidth={1} strokeDasharray="3 1.5" />
      <rect x={797} y={329} width={65.7} height={109.4} fill="none" stroke="#333" strokeWidth={1} strokeDasharray="3.5 2.5" />
      {["MBD4", "ITGB5", "DHX30", "KDM4A"].map((g, i) => (
        <T key={g} x={803} y={gTicks[i]} fs={14.7} anchor="start" fill={i === 1 ? "#e8202a" : "#222"}>{g}</T>
      ))}

      {/* G */}
      <T x={992} y={290} fs={15.5}>PANC-1</T>
      <T x={1117} y={290} fs={15}>MIA PaCa-2</T>
      <T x={895.6} y={375.5} rot={-90} fs={15} len={182}>Relative <tspan fontStyle="italic">ITGB5</tspan> mRNA level</T>

      {/* H */}
      <T x={460} y={579} fs={20}>PANC-1</T>
      <T x={630} y={579} fs={20}>MIA PaCa-2</T>
      <line x1={408.6} x2={505.4} y1={595.5} y2={595.5} stroke="#222" strokeWidth={1.6} />
      <line x1={579} x2={675.6} y1={595.5} y2={595.5} stroke="#222" strokeWidth={1.6} />
      <T x={385} y={613} fs={20} anchor="end">shNAT10</T>
      {[[416, "-"], [458.7, "#1"], [498.5, "#2"], [579, "-"], [623, "#1"], [668, "#2"]].map(([x, l], i) => <T key={i} x={x} y={613} fs={20}>{l}</T>)}
      <T x={712.7} y={602.7} fs={20}>kDa</T>
      <T x={385} y={649} fs={20} anchor="end">NAT10</T>
      <T x={385} y={702} fs={20} anchor="end">ITGB5</T>
      <T x={385} y={753.6} fs={20} anchor="end">GAPDH</T>
      <Blot x0={391.7} x1={526.8} lanes={[418, 457.6, 496]} bw={28} levels={hPancLevels} rows={[{ top: 632.5, h: 32, band: 650, bh: 7 }, { top: 687, h: 31, band: 702.7, bh: 7 }, { top: 740, h: 32, band: 754, bh: 7 }]} />
      <Blot x0={555} x1={689.7} lanes={[580, 622, 665]} bw={30} levels={hMiaLevels} rows={[{ top: 632.5, h: 32, band: 650, bh: 6 }, { top: 687, h: 31, band: 703, bh: 7 }, { top: 740, h: 32, band: 756, bh: 9 }]} />
      {[[633, "-130"], [661, "-100"], [706, "-100"], [739, "-40"], [769, "-35"]].map(([y, l], i) => <T key={i} x={690.5} y={y} fs={20} anchor="start">{l}</T>)}

      {/* I */}
      <T x={971} y={555} fs={13.5} len={301} fill="#333">n = 161 , r = 0.286 (pearson), p.value = 2.3e−04</T>
      <T x={982.5} y={787} fs={13.5} fill="#333">NAT10 expression</T>
      <T x={803} y={666} fs={13.5} rot={-90} fill="#333">ITGB5 expression</T>

      <g transform={SQUEEZE}>
        {/* J */}
        <T x={338} y={839} fs={16.5}>acRIP-seq</T>
        <T x={135.6} y={850} fs={15.5} anchor="start">[0-13800]</T>
        <rect x={191.7} y={862} width={19.7} height={200} fill="#fdf0dd" />
        <rect x={463.6} y={862} width={19.7} height={200} fill="#fdf0dd" />
        {[[876.3, "#eeeeee"], [890.3, "#f2f2f2"], [960, "#f0f0f0"], [974, "#f0f0f0"], [918, "#f08a90"], [932, "#f6b8bc"], [1001.7, "#ccccea"], [1016, "#cddcea"], [1030, "#9fdcdc"]].map(([y, c], i) => (
          <line key={i} x1={135.6} x2={529} y1={y} y2={y} stroke={c as string} strokeWidth={1.2} />
        ))}
        {[861.7, 905, 946.7, 989, 1032.7].map((y) => <line key={y} x1={135.6} x2={529} y1={y} y2={y} stroke="#333" strokeWidth={2} />)}
        {[[201.5, 918, 6, "#e8202a"], [201.5, 932, 7, "#e8202a"], [201.5, 946, 9, "#f58a10"], [472.7, 918, 5, "#e8202a"], [472.7, 932, 5, "#e8202a"], [472.7, 946, 10, "#f58a10"]].map(([x, y, h, c], i) => (
          <path key={i} d={`M${(x as number) - 2.8} ${y}L${(x as number) - 1.5} ${(y as number) - (h as number)}L${(x as number) + 1.8} ${(y as number) - (h as number) + 2}L${(x as number) + 2.8} ${y}Z`} fill={c as string} />
        ))}
        {[201.5, 472.7].map((x) => <rect key={x} x={x - 2} y={1000.5} width={4} height={2} fill="#4444dd" />)}
        {[1037.3, 1047.3, 1057].map((y, i) => (
          <g key={y}>
            <line x1={135.6} x2={529} y1={y} y2={y} stroke="#4848c8" strokeWidth={i === 0 ? 1.2 : 1.5} strokeOpacity={i === 0 ? 1 : 0.6} />
            {chevrons.map((c) => <path key={c} d={`M${c + 1.5} ${y - 1.5}L${c} ${y}L${c + 1.5} ${y + 1.5}`} fill="none" stroke="#3333bb" strokeWidth={0.8} />)}
            {i !== 1 && <rect x={199.5} y={y - 3} width={4} height={6} fill="#2222cc" />}
            {i !== 1 && <rect x={472} y={y - 3} width={2} height={6} fill="#2222cc" />}
          </g>
        ))}
        <T x={84} y={903} rot={-90} fs={15} len={42} font="DejaVu Sans">shCtrl</T>
        <T x={84} y={990} rot={-90} fs={15} len={67} font="DejaVu Sans">shNAT10</T>
        <line x1={93} x2={93} y1={867} y2={942} stroke="#444" />
        <line x1={93} x2={93} y1={952} y2={1027} stroke="#444" />
        <T x={116} y={883} fs={15}>Input</T>
        <T x={126} y={926} fs={15}>IP</T>
        <T x={116} y={968} fs={15}>Input</T>
        <T x={126} y={1010} fs={15}>IP</T>
        <T x={338} y={1082} fs={16}>ITGB5</T>

        {/* K */}
        <T x={599} y={948} rot={-90} fs={15} len={253} font="DejaVu Sans">Relative ac4C+ <tspan fontStyle="italic">ITGB5</tspan> mRNA (%)</T>
        <T x={691} y={834} fs={16.5}>PANC-1</T>
        <T x={815} y={834} fs={17}>MIA PaCa-2</T>

        {/* L */}
        <T x={930} y={916} rot={-90} fs={13} len={175} font="DejaVu Sans">Relative <tspan fontStyle="italic">ITGB5</tspan> mRNA level</T>
        <T x={1006} y={832.7} fs={14}>PANC-1</T>
        <T x={1132} y={832.7} fs={14}>MIA PaCa-2</T>

        {/* M */}
        <Blot x0={146} x1={275} lanes={[163.6, 195.5, 225.8, 256]} bw={21} levels={mPancLevels} rows={[{ top: 1258, h: 27, band: 1271, bh: 4.5 }, { top: 1291, h: 27, band: 1305, bh: 4.5 }, { top: 1322.7, h: 28, band: 1336.7, bh: 6 }]} />
        <Blot x0={391.7} x1={519.7} lanes={[408, 440, 470.5, 500.8]} bw={21} levels={mMiaLevels} rows={[{ top: 1258, h: 27, band: 1269, bh: 4.5 }, { top: 1291, h: 27, band: 1305, bh: 4.5 }, { top: 1322.7, h: 28, band: 1337, bh: 6 }]} />
        {[[141, 165, 195.5, 228, 258, 1250, 233, 190, 266.7, 273.5, 275.8, 218, 1365, "PANC-1", 1271, 1302.7, 1335.7], [385.6, 410, 441.7, 472.7, 503, 1248, 478.8, 434.8, 512, 518, 521, 460.6, 1361.7, "MIA PaCa-2", 1273, 1305, 1338]].map((m: any, i) => (
          <g key={i}>
            <T x={m[0]} y={m[14]} fs={16.5} anchor="end">NAT10</T>
            <T x={m[0]} y={m[15]} fs={16.5} anchor="end">ITGB5</T>
            <T x={m[0]} y={m[16]} fs={16.5} anchor="end">GAPDH</T>
            <T x={m[1]} y={m[5]} fs={15} rot={-90} anchor="start">shCtrl + Vec.</T>
            <T x={m[2]} y={m[5]} fs={15} rot={-90} anchor="start">Vector</T>
            <T x={m[3]} y={m[5]} fs={15} rot={-90} anchor="start">{withSup("NAT10^WT", 15)}</T>
            <T x={m[4]} y={m[5]} fs={15} rot={-90} anchor="start">{withSup("NAT10^G641E", 15)}</T>
            <T x={m[6]} y={1159} fs={16}>shNAT10#1</T>
            <path d={`M${m[7]} 1172V1169H${m[8]}V1172`} fill="none" stroke="#333" strokeWidth={1.2} />
            <T x={m[9]} y={1243} fs={14.5} anchor="start">kDa</T>
            {[[1257, "-130"], [1282, "-100"], [1307, "-100"], [1322.7, "-40"], [1345.7, "-35"]].map(([y, l], j) => (
              <T key={j} x={m[10]} y={y} fs={16} anchor="start">{l}</T>
            ))}
            <T x={m[11]} y={m[12]} fs={16.5}>{m[13]}</T>
          </g>
        ))}

        {/* N */}
        <T x={599} y={1248} rot={-90} fs={14.5} len={236} font="DejaVu Sans">Relative ac4C+ <tspan fontStyle="italic">ITGB5</tspan> mRNA (%)</T>
        <T x={929} y={1246} rot={-90} fs={14.5} len={236} font="DejaVu Sans">Relative ac4C+ <tspan fontStyle="italic">ITGB5</tspan> mRNA (%)</T>
        <T x={738} y={1136} fs={16}>PANC-1</T>
        <T x={1069.7} y={1137} fs={16}>MIA PaCa-2</T>
        {[[610.6, 703, 717.4, 816.7, 1395.3, 656, 766, 1404], [936, 1028.8, 1043, 1143, 1397.3, 982.6, 1091.7, 1406]].map(([a, b, c, d, ly, t1, t2, ty], i) => (
          <g key={i}>
            <line x1={a} x2={b} y1={ly} y2={ly} stroke="#333" />
            <line x1={c} x2={d} y1={ly} y2={ly} stroke="#333" />
            <T x={t1} y={ty} fs={15.5}>IgG</T>
            <T x={t2} y={ty} fs={15.5}>ac4C</T>
          </g>
        ))}
      </g>

      {/* K / L group labels, measured on the true scale */}
      {[[628, 659, 647, 673, 703, 688], [750.7, 781.7, 769, 795, 825, 810.7]].map(([a, b, c, d, e, f], i) => (
        <g key={i}>
          <line x1={a} x2={b} y1={1082.7} y2={1082.7} stroke="#333" />
          <line x1={d} x2={e} y1={1082.7} y2={1082.7} stroke="#333" />
          <T x={c} y={1092.5} fs={16.5}>IgG</T>
          <T x={f} y={1092.5} fs={16.5}>ac4C</T>
        </g>
      ))}
      {[[960, 1025, 996.7], [1085, 1149, 1121.7]].map(([a, b, c], i) => (
        <g key={i}>
          <path d={`M${a} 1085V1082.7H${b}V1085`} fill="none" stroke="#333" />
          <T x={c} y={1092.7} fs={14}>shNAT10#1</T>
        </g>
      ))}

      {/* page furniture */}
      <rect x={0} y={1666} width={1280} height={4.5} fill="#bdbdbd" />
      <g transform={SQUEEZE}>
        <g fontFamily={SERIF} fill="#333" fontSize={16}>
          <text x={70.5} y={1451} dominantBaseline="central" textLength={243} lengthAdjust="spacingAndGlyphs"><tspan fontWeight="bold">Fig. 4</tspan> (See legend on next page.)</text>
          <text x={70.5} y={1758} dominantBaseline="central" textLength={473.5} lengthAdjust="spacingAndGlyphs">Huang <tspan fontStyle="italic">et al. Journal of Experimental &amp; Clinical Cancer Research</tspan></text>
          <text x={597} y={1758} dominantBaseline="central" textLength={103} lengthAdjust="spacingAndGlyphs">(2025) 44:103</text>
          <text x={1078.8} y={1758} dominantBaseline="central" textLength={106.2} lengthAdjust="spacingAndGlyphs">Page 11 of 19</text>
        </g>
        <Caption />
      </g>
    </svg>
  );
}

export default function App() {
  const four = [GRAY, SALMON, PEACH, SKY];
  const kColors = [GRAY, SALMON, BLUE, SALMON];
  const nColors = [...four, ...four];
  return (
    <div style={{ position: "absolute", left: 0, top: 0, width: 1280, height: 2177, background: "#fff", fontFamily: "Liberation Sans", overflow: "hidden" }}>
      <style>{".recharts-surface{overflow:visible!important}"}</style>
      <GseaPanel box={sq([148, 100, 347, 187])} ranks={gseaARank} es={gseaAEs} domain={[-0.125, 0.2375]} ticks={[-0.1, 0, 0.1, 0.2]} hits={gseaAHits} widths={stripAWidths} />
      <GseaPanel box={sq([445, 99, 650, 188])} ranks={gseaBRank} es={gseaBEs} domain={[-0.17, 0.44]} ticks={[-0.1, 0, 0.1, 0.2, 0.3, 0.4]} hits={gseaBHits} widths={stripBWidths} />
      <EnrichmentPanel />
      <Heatmap />
      <BarPanel
        box={[934, 305, 1035, 456]} labels={gLabels} means={gPancMeans} errs={gPancErrs} reps={gPancReps} colors={[GRAY, SALMON, PEACH]}
        yMax={1.5} ticks={[0, 0.5, 1, 1.5]} yFormat={oneDecimal} barW={20} padL={4.7} padR={4.8} fs={14} tickFs={15.5}
        sigs={[{ from: 0, to: 1, y: 1.143, l: 2.7, r: -4.6 }, { from: 0, to: 2, y: 1.33, l: 9, r: -5.7 }]}
      />
      <BarPanel
        box={[1064, 305, 1165, 456]} labels={gLabels} means={gMiaMeans} errs={gMiaErrs} reps={gMiaReps} colors={[GRAY, SALMON, PEACH]}
        yMax={1.5} ticks={[0, 0.5, 1, 1.5]} yFormat={oneDecimal} barW={20} padL={4.7} padR={5.7} fs={14} tickFs={15.5}
        sigs={[{ from: 0, to: 1, y: 1.1, r: -1.5 }, { from: 0, to: 2, y: 1.295, l: 6.5, r: -3.4 }]}
      />
      <ScatterPanel />
      <BarPanel
        box={sq([645.5, 851.7, 738, 1005])} labels={kLabels} means={kPancMeans} errs={kPancErrs} reps={kPancReps} colors={kColors}
        yMax={40} ticks={[0, 10, 20, 30, 40]} barW={15} padL={2} padR={5} fs={14} tickFs={17.5} angle={-56} gap={4}
        sigs={[{ from: 2, to: 3, y: 36.3, drop: 3 }]} dotR={2}
      />
      <BarPanel
        box={sq([767.4, 851.7, 860.6, 1005])} labels={kLabels} means={kMiaMeans} errs={kMiaErrs} reps={kMiaReps} colors={kColors}
        yMax={40} ticks={[0, 10, 20, 30, 40]} barW={15} padL={3} padR={4.5} fs={14} tickFs={17.5} angle={-56} gap={4}
        sigs={[{ from: 2, to: 3, y: 35.2, drop: 3 }]} dotR={2}
      />
      <BarPanel
        box={sq([959, 852.7, 1048.5, 1005])} labels={lLabels} means={lPancMeans} errs={lPancErrs} reps={lPancReps} colors={four}
        yMax={6} ticks={[0, 2, 4, 6]} barW={14} padL={7} padR={3.7} fs={12.5} tickFs={14.5} angle={-53} gap={4} dotR={1.8} capW={5}
        sigs={[{ from: 0, to: 1, y: 1.71, l: 1.5, r: 1.5 }, { from: 1, to: 2, y: 5.8 }, { from: 2, to: 3, y: 5.7, l: 5, r: 2.5 }]}
      />
      <BarPanel
        box={sq([1084, 852.7, 1171, 1005])} labels={lLabels} means={lMiaMeans} errs={lMiaErrs} reps={lMiaReps} colors={four}
        yMax={6} ticks={[0, 2, 4, 6]} barW={14} padL={5} padR={3} fs={12.5} tickFs={14.5} angle={-53} gap={4} dotR={1.8} capW={5}
        sigs={[{ from: 0, to: 1, y: 1.35, l: 2, r: 2 }, { from: 1, to: 2, y: 5.45 }, { from: 2, to: 3, y: 5.3, l: 5, r: 2.5 }]}
      />
      <BarPanel
        box={sq([642, 1160.7, 859, 1302.3])} labels={nLabels} means={nPancMeans} errs={nPancErrs} reps={nPancReps} colors={nColors}
        yMax={60} ticks={[0, 20, 40, 60]} barW={17} padL={5.5} padR={5} fs={13.5} tickFs={15.5} angle={-57} gap={4} dotR={1.8} capW={5}
        sigs={[
          { from: 4, to: 5, y: 40.1, l: 2, r: 2 }, { from: 5, to: 6, y: 57.9 }, { from: 6, to: 7, y: 56.8, l: 5, r: 5 },
          { from: 5, to: 7, y: 62.9, text: "n.s", r: 5, fs: 15 },
        ]}
      />
      <BarPanel
        box={sq([968, 1160, 1184, 1301.7])} labels={nLabels} means={nMiaMeans} errs={nMiaErrs} reps={nMiaReps} colors={nColors}
        yMax={60} ticks={[0, 20, 40, 60]} barW={17} padL={5} padR={4} fs={13.5} tickFs={15.5} angle={-57} gap={4} dotR={1.8} capW={5}
        sigs={[
          { from: 4, to: 5, y: 36.7 }, { from: 5, to: 6, y: 51.2, r: -2 }, { from: 6, to: 7, y: 51.2, l: 6, r: 6 },
          { from: 5, to: 7, y: 59, text: "n.s", fs: 15 },
        ]}
      />
      <Overlay />
    </div>
  );
}
